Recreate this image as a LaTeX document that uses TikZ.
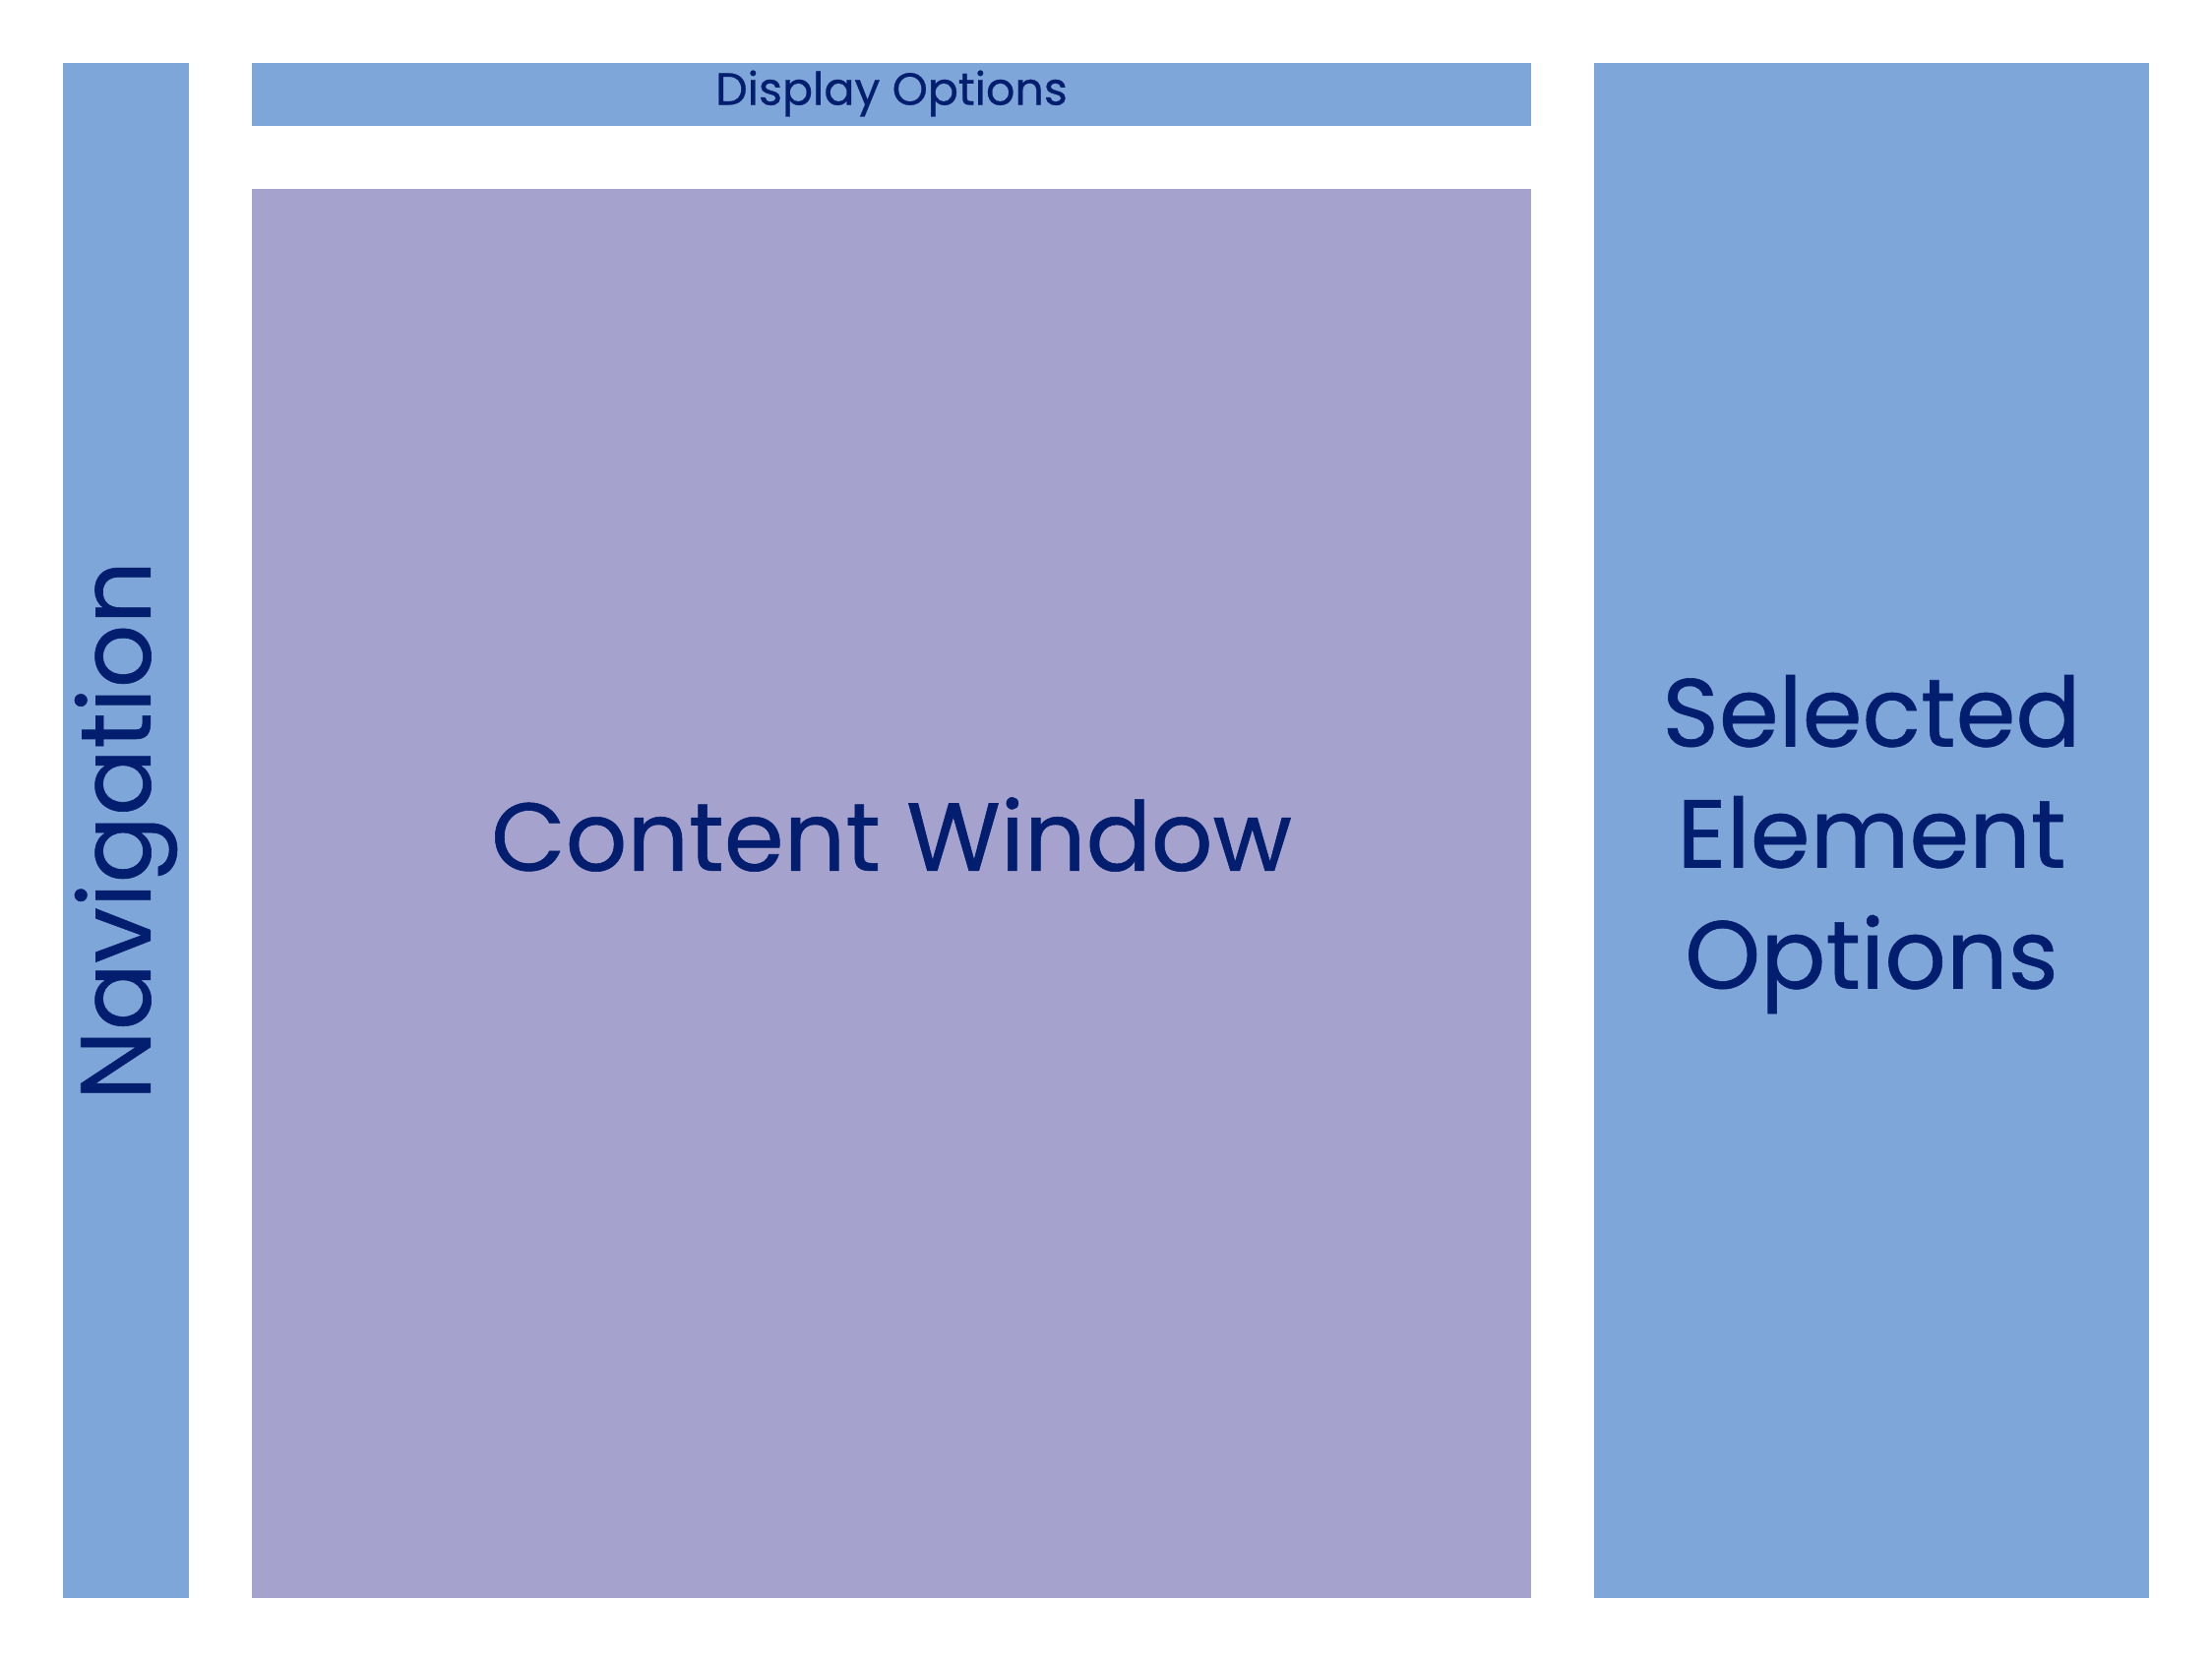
\documentclass[tikz,border=0pt]{standalone}
\usepackage{fontspec}
\setmainfont{Poppins}[FakeBold=0.6]
\definecolor{paneblue}{RGB}{126,166,216}
\definecolor{panepurple}{RGB}{165,163,205}
\definecolor{labelnavy}{RGB}{3,30,110}
\begin{document}
\begin{tikzpicture}[x=1pt,y=-1pt,
  pane/.style={draw=none,inner sep=0pt,outer sep=0pt,text=labelnavy,align=center},
  bigtext/.style={font=\fontsize{98}{123}\selectfont},
  navtext/.style={font=\fontsize{101}{123}\selectfont},
  smalltext/.style={font=\fontsize{46}{55}\selectfont}]
  \useasboundingbox[fill=white] (0,0) rectangle (2248,1688);
  % layout panes
  \fill[paneblue] (64,64) rectangle (192,1624);
  \fill[paneblue] (256,64) rectangle (1556,128);
  \fill[panepurple] (256,192) rectangle (1556,1624);
  \fill[paneblue] (1620,64) rectangle (2184,1624);
  % pane labels
  \node[pane,smalltext] (display) at (906,95) {Display Options};
  \node[pane,navtext,rotate=90] (nav) at (128,844) {Navigation};
  \node[pane,bigtext] (content) at (906,848) {Content Window};
  \node[pane,bigtext] (selected) at (1902,858) {Selected\\Element\\Options};
\end{tikzpicture}
\end{document}
